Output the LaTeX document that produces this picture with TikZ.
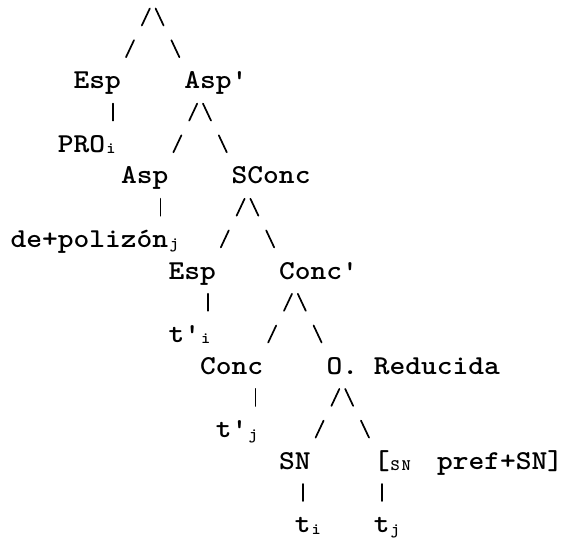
\documentclass[tikz,border=0pt]{standalone}
\usepackage{graphicx}
\newcommand\tw[1]{\scalebox{1.1}[1]{#1}}
\newcommand\CX[1]{10.5+15.8*(#1)}
\newcommand\YC[1]{17+31.7*((#1)-1)}
\newcommand\BL[1]{25.4+31.7*((#1)-1)}
\tikzset{
  lab/.style={font=\fontsize{27.3}{30}\selectfont\ttfamily\bfseries, inner sep=0pt, outer sep=0pt, anchor=base west},
  subl/.style={font=\fontsize{16}{17}\selectfont\ttfamily\bfseries, inner sep=0pt, outer sep=0pt, anchor=base west},
  stroke/.style={line width=1.7pt, line cap=round, black},
}
% "/" stroke in a cell
\newcommand\tkF[3]{\coordinate (#1a) at ({\CX{#2}+7.9-3},{\YC{#3}+8.5});
  \coordinate (#1b) at ({\CX{#2}+7.9+5},{\YC{#3}-8.5});
  \draw[stroke] (#1a) -- (#1b);}
% "\" stroke in a cell
\newcommand\tkB[3]{\coordinate (#1a) at ({\CX{#2}+7.9-5},{\YC{#3}-8.5});
  \coordinate (#1b) at ({\CX{#2}+7.9+3},{\YC{#3}+8.5});
  \draw[stroke] (#1a) -- (#1b);}
% "|" stroke in a cell
\newcommand\tkV[3]{\coordinate (#1a) at ({\CX{#2}+7.9},{\YC{#3}-8.5});
  \coordinate (#1b) at ({\CX{#2}+7.9},{\YC{#3}+8.5});
  \draw[stroke] (#1a) -- (#1b);}
\begin{document}
\begin{tikzpicture}[x=1pt,y=-1pt]
\path[use as bounding box] (0,0) rectangle (565,542);
% row 1-2
\tkF{rA}{8}{1} \tkB{rB}{9}{1}
\tkF{rC}{7}{2} \tkB{rD}{10}{2}
% row 3
\node[lab] (espA) at ({\CX{4}},{\BL{3}}) {\tw{Esp}};
\node[lab] (aspbar) at ({\CX{11}},{\BL{3}}) {\tw{Asp\textquotesingle}};
% row 4
\tkV{rE}{6}{4} \tkF{rF}{11}{4} \tkB{rG}{12}{4}
% row 5
\node[lab] (pro) at ({\CX{3}},{\BL{5}}) {\tw{PRO}};
\node[subl] (proi) at ({\CX{6}+1},{\BL{5}+1.5}) {\tw{i}};
\tkF{rH}{10}{5} \tkB{rI}{13}{5}
% row 6
\node[lab] (asp) at ({\CX{7}},{\BL{6}}) {\tw{Asp}};
\node[lab] (sconc) at ({\CX{14}},{\BL{6}}) {\tw{SConc}};
% row 7
\tkV{rJ}{9}{7} \tkF{rK}{14}{7} \tkB{rL}{15}{7}
% row 8
\node[lab] (dep) at ({\CX{0}},{\BL{8}}) {\tw{de+polizón}};
\node[subl] (depj) at ({\CX{10}+1},{\BL{8}+1.5}) {\tw{j}};
\tkF{rM}{13}{8} \tkB{rN}{16}{8}
% row 9
\node[lab] (espB) at ({\CX{10}},{\BL{9}}) {\tw{Esp}};
\node[lab] (concbar) at ({\CX{17}},{\BL{9}}) {\tw{Conc\textquotesingle}};
% row 10
\tkV{rO}{12}{10} \tkF{rP}{17}{10} \tkB{rQ}{18}{10}
% row 11
\node[lab] (tpi) at ({\CX{10}},{\BL{11}}) {\tw{t\textquotesingle}};
\node[subl] (tpii) at ({\CX{12}+1},{\BL{11}+1.5}) {\tw{i}};
\tkF{rR}{16}{11} \tkB{rS}{19}{11}
% row 12
\node[lab] (conc) at ({\CX{12}},{\BL{12}}) {\tw{Conc}};
\node[lab] (ored) at ({\CX{20}},{\BL{12}}) {\tw{O. Reducida}};
% row 13
\tkV{rT}{15}{13} \tkF{rU}{20}{13} \tkB{rV}{21}{13}
% row 14
\node[lab] (tpj) at ({\CX{13}},{\BL{14}}) {\tw{t\textquotesingle}};
\node[subl] (tpjj) at ({\CX{15}+1},{\BL{14}+1.5}) {\tw{j}};
\tkF{rW}{19}{14} \tkB{rX}{22}{14}
% row 15
\node[lab] (sn) at ({\CX{17}},{\BL{15}}) {\tw{SN}};
\node[lab] (lbr) at ({\CX{23}},{\BL{15}}) {\tw{[}};
\node[subl] (snsub) at ({\CX{24}+1},{\BL{15}+1.5}) {\tw{S\kern1.5pt N}};
\node[lab] (pref) at ({\CX{27}},{\BL{15}}) {\tw{pref+SN]}};
% row 16
\tkV{rY}{18}{16} \tkV{rZ}{23}{16}
% row 17
\node[lab] (ti) at ({\CX{18}},{\BL{17}}) {\tw{t}};
\node[subl] (tii) at ({\CX{19}+1},{\BL{17}+1.5}) {\tw{i}};
\node[lab] (tj) at ({\CX{23}},{\BL{17}}) {\tw{t}};
\node[subl] (tjj) at ({\CX{24}+1},{\BL{17}+1.5}) {\tw{j}};
\end{tikzpicture}
\end{document}
